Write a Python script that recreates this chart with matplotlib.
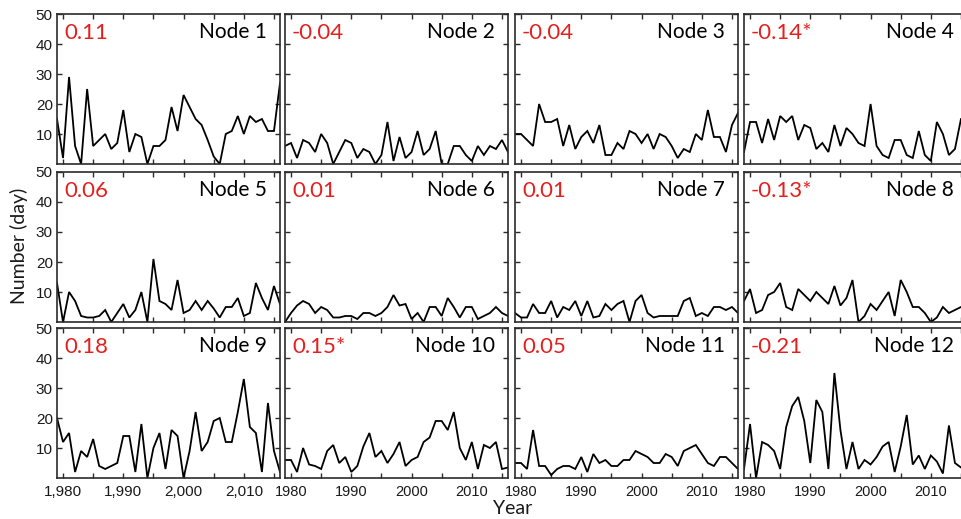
import matplotlib
matplotlib.use("Agg")
import matplotlib.pyplot as plt
from matplotlib.ticker import FuncFormatter, FixedLocator

years = list(range(1979, 2017))

node1 = [15, 2, 29, 6, 0, 25, 6, 8, 10, 5, 7, 18, 4, 10, 9, 0, 6, 6, 8, 19, 11, 23, 19, 15, 13, 8, 2.5, 0, 10, 11, 16, 10, 16, 14, 15, 11, 11, 27]
node2 = [6, 7, 2, 8, 7, 4, 10, 7, 0, 4, 8, 7, 2, 5, 4, 0, 3, 14, 1, 9, 2, 4, 11, 3, 5, 11, 0, 0, 6, 6, 3, 1, 6, 3, 6, 5, 8, 4]
node3 = [10, 10, 8, 6, 20, 14, 14, 15, 6, 13, 5, 9, 11, 7, 13, 3, 3, 7, 5, 11, 10, 7, 10, 5, 10, 9, 6, 2, 5, 4, 10, 8, 18, 9, 9, 4, 13, 17]
node4 = [4, 14, 14, 7, 15, 8, 16, 14, 16, 8, 13, 12, 5, 7, 4, 13, 6, 12, 10, 7, 6, 20, 6, 3, 2, 8, 8, 3, 2, 11, 3, 1, 14, 10, 3, 5, 15, 15]
node5 = [13, 0, 10, 7, 2, 1.5, 1.5, 2, 4, 0, 3, 6, 1.5, 4, 10, 0, 21, 7, 6, 4, 14, 3, 4, 7, 4, 7, 4.5, 1.5, 5, 5, 8, 2, 3, 13, 8, 4, 12, 6]
node6 = [0, 3, 5.5, 7, 6, 3, 5, 4, 1.5, 1.5, 2, 2, 1, 3, 3, 2, 3, 5, 9, 5.5, 6, 1, 3, 0, 5, 5, 2, 8, 5, 1.5, 5, 5, 1, 2, 3, 5, 3, 2]
node7 = [3, 1.5, 1.5, 6, 3, 3, 7, 1.5, 5, 4, 7, 2, 7, 1.5, 2, 6, 4, 6, 7, 0, 7, 9, 3, 1.5, 2, 2, 2, 2, 7, 8, 2, 3, 2, 5, 5, 4, 5, 3]
node8 = [7, 11, 3, 4, 9, 10, 13, 5, 4, 11, 9, 7, 10, 8, 6, 12, 5.5, 8, 14, 0, 2, 6, 4, 7, 10, 2, 14, 10, 5, 5, 3, 0, 1.5, 5, 3, 4, 5, 5]
node9 = [20, 12, 15, 2, 9, 7, 13, 4, 3, 4, 5, 14, 14, 2, 18, 0, 10, 15, 3, 16, 14, 0, 9, 22, 9, 12, 19, 20, 12, 12, 22, 33, 17, 15, 2, 25, 9, 2]
node10 = [6, 6, 2, 10, 4.5, 4, 3, 9, 11, 5, 7, 2, 4, 10.5, 15, 7, 9, 5, 8, 12, 4, 6, 7, 12, 13.5, 19, 19, 16, 22, 10, 6, 12, 3, 11, 10, 12, 3, 3.5]
node11 = [5, 5, 3, 16, 4, 4, 1, 3, 4, 4, 3, 7, 2, 8, 5, 6, 4, 4, 6, 6, 9, 8, 7, 5, 5, 8, 7, 4, 9, 10, 11, 8, 5, 4, 7, 7, 5, 3]
node12 = [3, 18, 0, 12, 11, 9, 3, 17, 24, 27, 19, 5, 26, 22, 3, 35, 16, 3, 12, 3, 6, 4.5, 7, 10.5, 12, 2, 10.5, 21, 4.5, 7.5, 3, 7.5, 5.5, 1.5, 17.5, 5, 3.5, 3]

series = [node1, node2, node3, node4, node5, node6, node7, node8, node9, node10, node11, node12]
names = ["Node %d" % (i + 1) for i in range(12)]
trends = ["0.11", "-0.04", "-0.04", "-0.14*", "0.06", "0.01", "0.01", "-0.13*",
          "0.18", "0.15*", "0.05", "-0.21"]
yticks = [10, 20, 30, 40, 50]
xmajor = [1980, 1990, 2000, 2010]
xminor = [1985, 1995, 2005, 2015]

W, H = 962, 519
fig = plt.figure(figsize=(W / 100, H / 100), dpi=100)
fig.patch.set_facecolor("white")

lefts = [57, 285, 515, 744]
tops = [14, 172, 328]
aw, ah = 223, 150
label_font = "Lato"
tick_font = "Liberation Sans"
spine_col = "#2b2b2b"

for i, vals in enumerate(series):
    r, c = divmod(i, 4)
    ax = fig.add_axes([lefts[c] / W, 1 - (tops[r] + ah) / H, aw / W, ah / H])
    ax.plot(years, vals, color="black", lw=1.3, solid_joinstyle="miter")
    ax.set_xlim(1979, 2016)
    ax.set_ylim(0, 50)
    ax.set_yticks(yticks)
    ax.xaxis.set_major_locator(FixedLocator(xmajor))
    ax.xaxis.set_minor_locator(FixedLocator(xminor))
    for s in ax.spines.values():
        s.set_color(spine_col)
        s.set_linewidth(1.2)
    ax.tick_params(which="both", direction="in", top=True, right=True,
                   length=3.5, width=1.0, color=spine_col, pad=3)
    ax.tick_params(axis="y", labelsize=11, labelcolor="#1a1a1a")
    ax.tick_params(axis="x", labelsize=10.5 if c else 11, labelcolor="#1a1a1a", pad=5)
    for lab in ax.get_xticklabels() + ax.get_yticklabels():
        lab.set_fontfamily(tick_font)
    if c != 0:
        ax.set_yticklabels([])
    if r != 2:
        ax.set_xticklabels([])
    elif c == 0:
        ax.xaxis.set_major_formatter(FuncFormatter(lambda v, p: "{:,}".format(int(v))))
        for lab in ax.get_xticklabels():
            lab.set_fontfamily(tick_font)
    ax.text(7 / aw, 1 - 19 / ah, trends[i], transform=ax.transAxes,
            color="#e4201f", fontsize=16, fontfamily=label_font,
            ha="left", va="center")
    ax.text(1 - 13 / aw, 1 - 18 / ah, names[i], transform=ax.transAxes,
            color="black", fontsize=15, fontfamily=label_font,
            ha="right", va="center")

fig.text(19 / W, 1 - 246 / H, "Number (day)", rotation=90, fontsize=14,
         fontfamily=label_font, ha="center", va="center", color="#1a1a1a")
fig.text(513 / W, 1 - 509 / H, "Year", fontsize=14, fontfamily=label_font,
         ha="center", va="center", color="#1a1a1a")

fig.savefig("out.png", dpi=100, facecolor="white")
